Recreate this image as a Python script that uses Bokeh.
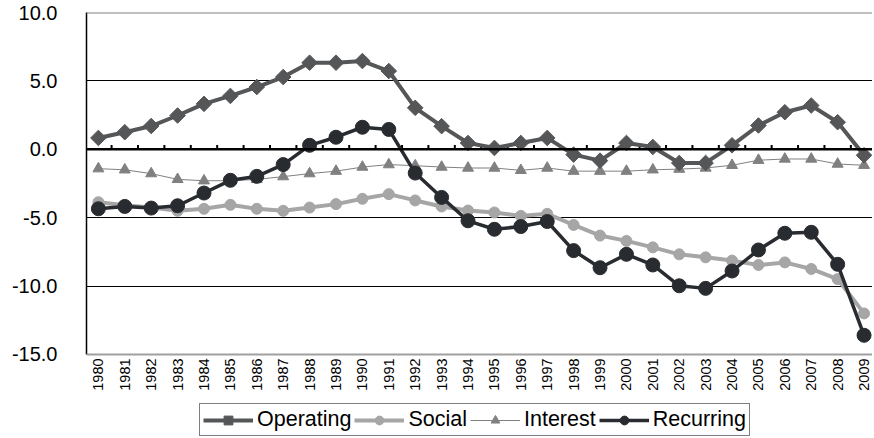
import numpy as np
from bokeh.plotting import figure
from bokeh.models import (ColumnDataSource, FixedTicker, NumeralTickFormatter, Span,
                          Legend, LegendItem)
from bokeh.core.properties import value
from bokeh.embed import file_html
from bokeh.resources import INLINE

years = [str(y) for y in range(1980, 2010)]
operating = [0.83, 1.25, 1.7, 2.47, 3.32, 3.9, 4.55, 5.28, 6.33, 6.33, 6.45, 5.72,
             3.03, 1.69, 0.46, 0.1, 0.46, 0.83, -0.39, -0.83, 0.46, 0.17, -1.0, -1.0,
             0.29, 1.74, 2.71, 3.2, 1.98, -0.44]
social = [-3.87, -4.1, -4.25, -4.5, -4.35, -4.06, -4.35, -4.5, -4.26, -4.01, -3.62, -3.28,
          -3.74, -4.18, -4.48, -4.62, -4.87, -4.72, -5.53, -6.31, -6.7, -7.17, -7.68, -7.9,
          -8.14, -8.46, -8.27, -8.75, -9.49, -12.0]
interest = [-1.42, -1.5, -1.78, -2.2, -2.3, -2.3, -2.2, -2.0, -1.78, -1.6, -1.3, -1.12,
            -1.2, -1.3, -1.37, -1.37, -1.54, -1.37, -1.6, -1.6, -1.6, -1.5, -1.45, -1.37,
            -1.17, -0.8, -0.71, -0.71, -1.08, -1.17]
recurring = [-4.35, -4.18, -4.3, -4.13, -3.2, -2.27, -1.98, -1.12, 0.29, 0.88, 1.61, 1.45,
             -1.74, -3.52, -5.23, -5.85, -5.65, -5.28, -7.41, -8.66, -7.68, -8.46, -9.98, -10.17,
             -8.9, -7.36, -6.14, -6.07, -8.41, -13.6]
y_ticks = [-15, -10, -5, 0, 5, 10]

idx = list(range(len(years)))
src = ColumnDataSource(dict(x=idx, op=operating, so=social, it=interest, re=recurring))

FONT = "Liberation Sans"
y_min, y_max = y_ticks[0], y_ticks[-1]
# frame extends below the value axis so the year labels and legend sit in it
p = figure(output_backend="svg", toolbar_location=None,
           width=872, height=436, x_axis_location=None,
           x_range=(-0.45, 29.32), y_range=(-21.0, y_max),
           min_border_left=86, min_border_right=0, min_border_top=12, min_border_bottom=0)
p.outline_line_color = None
p.background_fill_color = "white"

# value axis
p.yaxis.ticker = FixedTicker(ticks=y_ticks)
p.yaxis.bounds = (y_min, y_max)
p.yaxis.formatter = NumeralTickFormatter(format="0.0")
p.yaxis.major_label_text_font = FONT
p.yaxis.major_label_text_font_size = "20px"
p.yaxis.major_label_text_color = "black"
p.yaxis.major_tick_line_color = None
p.yaxis.minor_tick_line_color = None
p.yaxis.axis_line_color = "black"
p.yaxis.axis_line_width = 1.5
p.yaxis.major_label_standoff = 23

p.xgrid.grid_line_color = None
p.ygrid.ticker = FixedTicker(ticks=[5, -5, -10])
p.ygrid.grid_line_color = "black"
p.ygrid.grid_line_width = 1

p.add_layout(Span(location=y_max, dimension="width", line_color="#808080", line_width=2))
p.add_layout(Span(location=y_min, dimension="width", line_color="#a0a0a0", line_width=2))
p.add_layout(Span(location=0, dimension="width", line_color="black", line_width=2.5))

# category labels under the value axis bottom
p.text(x=idx, y=[y_min] * len(idx), text=years, angle=np.pi / 2, y_offset=4,
       text_align="right", text_baseline="middle", text_color="black",
       text_font=value(FONT), text_font_size=value("14.5px"))

# tick marks on zero line between categories
bx = [i + 0.5 for i in idx[:-1]]
p.segment(x0=bx, y0=[0] * len(bx), x1=bx, y1=[0.32] * len(bx), line_color="black", line_width=2)

# series
l_it = p.line("x", "it", source=src, line_color="#808080", line_width=1)
m_it = p.scatter("x", "it", source=src, marker="triangle", size=11,
                 fill_color="#808080", line_color="#808080")

l_so = p.line("x", "so", source=src, line_color="#a6a6a6", line_width=4)
m_so = p.scatter("x", "so", source=src, marker="circle", size=11,
                 fill_color="#a6a6a6", line_color="#a6a6a6")

l_op = p.line("x", "op", source=src, line_color="#545658", line_width=4)
m_op = p.scatter("x", "op", source=src, marker="square", size=11, angle=np.pi / 4,
                 fill_color="#545658", line_color="#545658")

l_re = p.line("x", "re", source=src, line_color="#282c30", line_width=3.5)
m_re = p.scatter("x", "re", source=src, marker="circle", size=14,
                 fill_color="#282c30", line_color="#282c30")

legend = Legend(items=[
    LegendItem(label="Operating", renderers=[l_op, m_op]),
    LegendItem(label="Social", renderers=[l_so, m_so]),
    LegendItem(label="Interest", renderers=[l_it, m_it]),
    LegendItem(label="Recurring", renderers=[l_re, m_re]),
], orientation="horizontal", location=(113, 0))
legend.label_text_font = FONT
legend.label_text_font_size = "21.5px"
legend.label_text_color = "black"
legend.glyph_width = 50
legend.glyph_height = 22
legend.label_standoff = 4
legend.spacing = 3
legend.padding = 3
legend.margin = 0
legend.border_line_color = "black"
legend.border_line_width = 1
legend.background_fill_alpha = 1
p.add_layout(legend, "center")

open("out.html", "w").write(file_html(p, INLINE))
